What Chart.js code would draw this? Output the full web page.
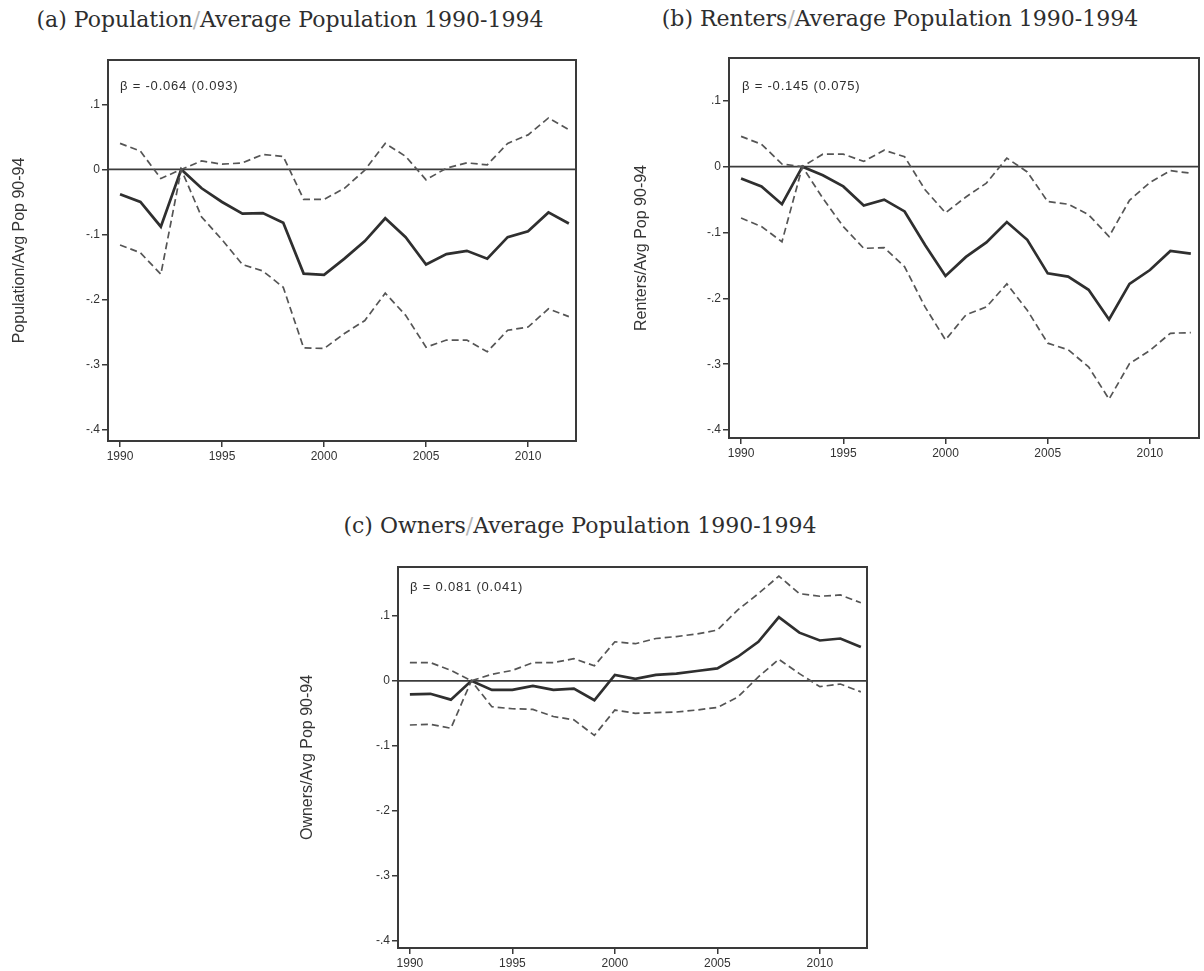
<!DOCTYPE html>
<html>
<head>
<meta charset="utf-8">
<script src="https://cdn.jsdelivr.net/npm/chart.js@4.4.1/dist/chart.umd.min.js"></script>
<style>
  html, body { margin: 0; padding: 0; background: #fff; }
  body { width: 1204px; height: 971px; position: relative; overflow: hidden; }
  canvas { position: absolute; }
  .ptitle {
    position: absolute;
    font-family: "DejaVu Serif", "Liberation Serif", serif;
    font-size: 22px;
    line-height: 24px;
    color: #2e2e2e;
    white-space: nowrap;
    transform: translateX(-50%);
  }
  .ptitle .sl { color: #b5b5b5; }
</style>
</head>
<body>
<div class="ptitle" style="left:290px; top:8px;">(a) Population<span class="sl">/</span>Average Population 1990-1994</div>
<div class="ptitle" style="left:900px; top:7px;">(b) Renters<span class="sl">/</span>Average Population 1990-1994</div>
<div class="ptitle" style="left:580px; top:514px;">(c) Owners<span class="sl">/</span>Average Population 1990-1994</div>

<canvas id="chartPop" width="600" height="440" style="left:0px; top:40px;"></canvas>
<canvas id="chartRent" width="582" height="442" style="left:622px; top:38px;"></canvas>
<canvas id="chartOwn" width="600" height="424" style="left:288px; top:547px;"></canvas>

<script>
// Event-study years (1993 is the omitted reference year)
const years = [1990, 1991, 1992, 1993, 1994, 1995, 1996, 1997, 1998, 1999, 2000, 2001,
               2002, 2003, 2004, 2005, 2006, 2007, 2008, 2009, 2010, 2011, 2012];

// Axis ticks
const xTickValues = [1990, 1995, 2000, 2005, 2010];
const xTickLabels = ['1990', '1995', '2000', '2005', '2010'];
const yTickValues = [-0.4, -0.3, -0.2, -0.1, 0, 0.1];
const yTickLabels = ['-.4', '-.3', '-.2', '-.1', '0', '.1'];

// (a) Population / average population 1990-94
const popEstimate = [-0.038, -0.050, -0.088, 0, -0.029, -0.050, -0.068, -0.067, -0.082, -0.160, -0.162, -0.137,
                     -0.110, -0.075, -0.104, -0.146, -0.130, -0.125, -0.137, -0.104, -0.095, -0.066, -0.083];
const popUpper    = [0.040, 0.028, -0.014, 0, 0.013, 0.008, 0.010, 0.023, 0.020, -0.046, -0.046, -0.029,
                     -0.001, 0.040, 0.020, -0.016, 0.002, 0.010, 0.007, 0.040, 0.053, 0.079, 0.061];
const popLower    = [-0.116, -0.128, -0.161, 0, -0.073, -0.108, -0.146, -0.156, -0.181, -0.274, -0.275, -0.252,
                     -0.232, -0.190, -0.224, -0.273, -0.262, -0.262, -0.280, -0.247, -0.242, -0.214, -0.226];

// (b) Renters / average population 1990-94
const rentEstimate = [-0.018, -0.030, -0.057, 0, -0.013, -0.030, -0.059, -0.050, -0.068, -0.119, -0.166, -0.137,
                      -0.115, -0.084, -0.111, -0.162, -0.167, -0.187, -0.232, -0.178, -0.157, -0.128, -0.132];
const rentUpper    = [0.046, 0.034, 0.004, 0, 0.019, 0.019, 0.008, 0.025, 0.015, -0.035, -0.070, -0.046,
                      -0.025, 0.013, -0.008, -0.053, -0.057, -0.073, -0.106, -0.051, -0.024, -0.006, -0.010];
const rentLower    = [-0.078, -0.091, -0.114, 0, -0.048, -0.091, -0.124, -0.123, -0.152, -0.213, -0.263, -0.225,
                      -0.213, -0.178, -0.218, -0.268, -0.278, -0.304, -0.353, -0.299, -0.279, -0.253, -0.252];

// (c) Owners / average population 1990-94
const ownEstimate = [-0.021, -0.020, -0.029, 0, -0.014, -0.014, -0.008, -0.014, -0.012, -0.030, 0.009, 0.003,
                     0.009, 0.011, 0.015, 0.019, 0.037, 0.060, 0.098, 0.074, 0.062, 0.065, 0.052];
const ownUpper    = [0.028, 0.028, 0.016, 0, 0.010, 0.016, 0.028, 0.028, 0.034, 0.023, 0.060, 0.057,
                     0.065, 0.068, 0.072, 0.078, 0.109, 0.134, 0.161, 0.134, 0.130, 0.132, 0.120];
const ownLower    = [-0.068, -0.067, -0.073, 0, -0.040, -0.043, -0.044, -0.055, -0.060, -0.084, -0.045, -0.050,
                     -0.049, -0.048, -0.045, -0.041, -0.025, 0.006, 0.033, 0.011, -0.009, -0.005, -0.017];

// Pooled coefficient notes
const betaNotes = ['\u03B2 = -0.064 (0.093)', '\u03B2 = -0.145 (0.075)', '\u03B2 = 0.081 (0.041)'];
const yTitles = ['Population/Avg Pop 90-94', 'Renters/Avg Pop 90-94', 'Owners/Avg Pop 90-94'];

const INK = '#333333';
const TICK_FONT = { family: '"Liberation Sans", Arial, sans-serif', size: 12 };

// Frame around the plot region, horizontal reference line at zero and the beta note
const framePlugin = {
  id: 'frame',
  beforeDatasetsDraw(chart) {
    const { ctx, chartArea } = chart;
    const y0 = chart.scales.y.getPixelForValue(0);
    ctx.save();
    ctx.strokeStyle = '#3c3c3c';
    ctx.lineWidth = 1.7;
    ctx.beginPath();
    ctx.moveTo(chartArea.left, y0);
    ctx.lineTo(chartArea.right, y0);
    ctx.stroke();
    ctx.restore();
  },
  afterDraw(chart, args, opts) {
    const { ctx, chartArea } = chart;
    ctx.save();
    ctx.strokeStyle = '#3a3a3a';
    ctx.lineWidth = 2;
    ctx.strokeRect(chartArea.left, chartArea.top, chartArea.right - chartArea.left, chartArea.bottom - chartArea.top);
    ctx.fillStyle = '#2e2e2e';
    ctx.font = '13px "Liberation Sans", Arial, sans-serif';
    if ('letterSpacing' in ctx) ctx.letterSpacing = '0.8px';
    ctx.textBaseline = 'middle';
    ctx.textAlign = 'left';
    ctx.fillText(opts.note, chartArea.left + opts.noteDx, chartArea.top + opts.noteDy);
    ctx.restore();
  }
};

function pts(vals) {
  return years.map((yr, i) => ({ x: yr, y: vals[i] }));
}

function makePanel(id, p) {
  const dashed = {
    borderColor: '#555555', borderWidth: 1.7, borderDash: [7, 4],
    pointRadius: 0, tension: 0, fill: false
  };
  return new Chart(document.getElementById(id), {
    type: 'line',
    data: {
      datasets: [
        Object.assign({ label: 'upper', data: pts(p.upper) }, dashed),
        Object.assign({ label: 'lower', data: pts(p.lower) }, dashed),
        { label: 'estimate', data: pts(p.est), borderColor: '#2f2f2f', borderWidth: 2.7,
          pointRadius: 0, tension: 0, fill: false }
      ]
    },
    options: {
      responsive: false,
      animation: false,
      devicePixelRatio: 1,
      layout: { padding: { top: p.padTop, right: p.padRight, left: 0, bottom: 0 } },
      plugins: {
        legend: { display: false },
        tooltip: { enabled: false },
        frame: { note: p.note, noteDx: p.noteDx, noteDy: p.noteDy }
      },
      scales: {
        x: {
          type: 'linear',
          min: p.xMin, max: p.xMax,
          afterBuildTicks: (s) => { s.ticks = xTickValues.map(v => ({ value: v })); },
          afterFit: (s) => { s.height = p.xAxisH; },
          ticks: {
            autoSkip: false, maxRotation: 0, padding: 2, color: INK, font: TICK_FONT,
            callback: (v) => xTickLabels[xTickValues.indexOf(v)]
          },
          grid: { drawOnChartArea: false, drawTicks: true, tickLength: 6, tickColor: '#3a3a3a', lineWidth: 1.5 },
          border: { display: false }
        },
        y: {
          type: 'linear',
          min: p.yMin, max: p.yMax,
          afterBuildTicks: (s) => { s.ticks = yTickValues.map(v => ({ value: v })); },
          afterFit: (s) => { s.width = p.yAxisW; },
          ticks: {
            padding: 2, color: INK, font: TICK_FONT,
            callback: (v) => {
              const i = yTickValues.findIndex(t => Math.abs(t - v) < 1e-9);
              return i >= 0 ? yTickLabels[i] : '';
            }
          },
          grid: { drawOnChartArea: false, drawTicks: true, tickLength: 6, tickColor: '#3a3a3a', lineWidth: 1.5 },
          border: { display: false },
          title: {
            display: true, text: p.yTitle, color: '#353535',
            font: { family: '"Liberation Sans", Arial, sans-serif', size: 16 },
            padding: { top: 10, bottom: 0 }
          }
        }
      }
    },
    plugins: [framePlugin]
  });
}

makePanel('chartPop', {
  est: popEstimate, upper: popUpper, lower: popLower,
  note: betaNotes[0], yTitle: yTitles[0],
  xMin: 1989.41, xMax: 2012.35, yMin: -0.417, yMax: 0.168,
  padTop: 20, padRight: 24, yAxisW: 108, xAxisH: 39, noteDx: 12, noteDy: 26
});

makePanel('chartRent', {
  est: rentEstimate, upper: rentUpper, lower: rentLower,
  note: betaNotes[1], yTitle: yTitles[1],
  xMin: 1989.41, xMax: 2012.4, yMin: -0.412, yMax: 0.165,
  padTop: 20, padRight: 5, yAxisW: 107, xAxisH: 42, noteDx: 13, noteDy: 28
});

makePanel('chartOwn', {
  est: ownEstimate, upper: ownUpper, lower: ownLower,
  note: betaNotes[2], yTitle: yTitles[2],
  xMin: 1989.42, xMax: 2012.3, yMin: -0.411, yMax: 0.175,
  padTop: 20, padRight: 21, yAxisW: 110, xAxisH: 23, noteDx: 12, noteDy: 20
});
</script>
</body>
</html>
